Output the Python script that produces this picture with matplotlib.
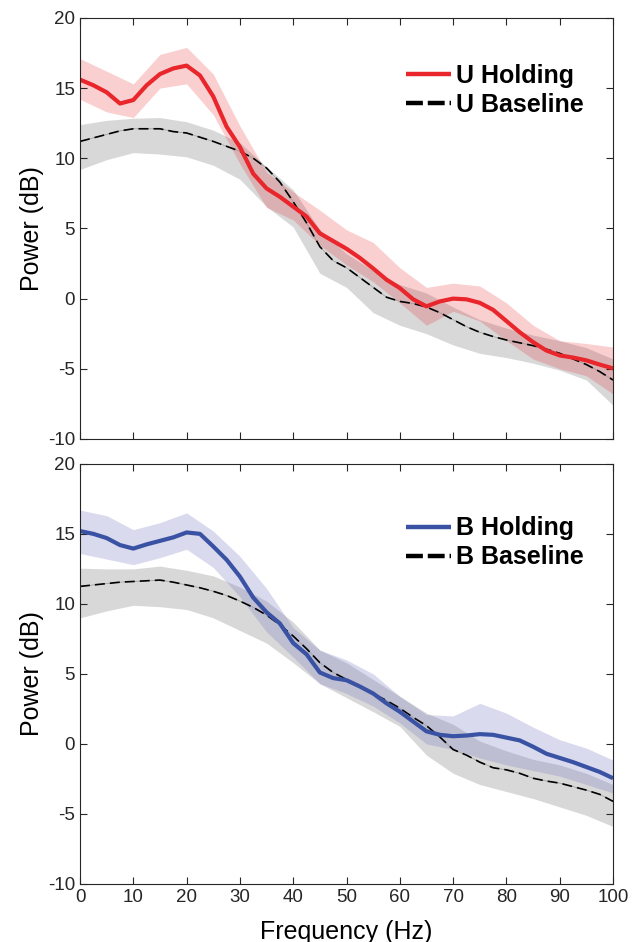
import matplotlib
matplotlib.use("Agg")
import matplotlib.pyplot as plt
import numpy as np

plt.rcParams["font.family"] = ["Liberation Sans", "DejaVu Sans"]
plt.rcParams["axes.unicode_minus"] = False

# frequency grids (Hz)
freq = np.arange(0, 100.1, 2.5)
freq_band = np.arange(0, 100.1, 5)

# --- top panel: U ---
u_hold = [15.6, 15.2, 14.7, 13.9, 14.15, 15.2, 16.0, 16.4, 16.6, 15.9, 14.4,
          12.25, 10.8, 8.9, 7.85, 7.25, 6.55, 5.85, 4.65, 4.1, 3.55, 2.9, 2.15,
          1.35, 0.75, -0.05, -0.55, -0.2, 0.0, -0.05, -0.3, -0.8, -1.6, -2.4,
          -3.1, -3.7, -4.05, -4.2, -4.4, -4.7, -4.97]
u_base = [11.2, 11.45, 11.7, 11.95, 12.1, 12.1, 12.1, 11.9, 11.8, 11.5, 11.2,
          10.85, 10.5, 10.0, 9.3, 8.3, 6.9, 5.4, 3.7, 2.7, 2.2, 1.5, 0.8, 0.1,
          -0.2, -0.35, -0.6, -1.0, -1.5, -2.0, -2.4, -2.7, -2.95, -3.15, -3.35,
          -3.6, -3.9, -4.3, -4.7, -5.2, -5.8]
u_hold_hi = [17.1, 16.2, 15.3, 17.4, 17.9, 16.0, 12.3, 9.0, 7.6, 6.3, 4.9,
             4.0, 2.2, 0.8, 1.1, 0.9, -0.3, -1.9, -3.0, -3.2, -3.45]
u_hold_lo = [14.2, 13.3, 12.9, 15.0, 15.3, 13.1, 9.6, 6.5, 5.6, 3.8, 2.4,
             1.2, -0.3, -1.9, -0.9, -1.6, -3.0, -4.3, -5.0, -5.5, -6.8]
u_base_hi = [12.4, 12.7, 12.85, 12.9, 12.6, 12.0, 11.1, 9.4, 7.75, 4.9, 3.2,
             2.0, 1.0, 0.4, -0.6, -1.5, -2.1, -2.6, -3.0, -3.5, -4.3]
u_base_lo = [9.2, 9.9, 10.4, 10.3, 10.1, 9.5, 8.5, 6.55, 5.1, 1.8, 0.8,
             -1.0, -1.9, -2.5, -3.3, -3.9, -4.2, -4.6, -5.1, -5.8, -7.6]

# --- bottom panel: B ---
b_hold = [15.2, 15.0, 14.7, 14.2, 13.95, 14.25, 14.5, 14.75, 15.1, 15.0, 14.1,
          13.15, 11.95, 10.45, 9.4, 8.6, 7.2, 6.4, 5.1, 4.7, 4.55, 4.1, 3.6,
          2.9, 2.3, 1.6, 0.9, 0.65, 0.55, 0.6, 0.7, 0.65, 0.45, 0.25, -0.2,
          -0.7, -1.0, -1.3, -1.65, -2.0, -2.45]
b_base = [11.25, 11.35, 11.45, 11.55, 11.6, 11.65, 11.7, 11.55, 11.35, 11.15,
          10.9, 10.6, 10.2, 9.75, 9.2, 8.5, 7.7, 6.8, 5.8, 5.1, 4.6, 4.1, 3.6,
          3.1, 2.55, 1.9, 1.3, 0.5, -0.4, -0.8, -1.3, -1.7, -1.85, -2.1, -2.45,
          -2.65, -2.8, -3.05, -3.3, -3.6, -4.1]
b_hold_hi = [16.7, 16.3, 15.3, 15.8, 16.5, 15.2, 13.4, 11.1, 8.3, 6.7, 6.0,
             5.0, 3.4, 2.1, 2.0, 2.9, 2.2, 1.2, 0.3, -0.3, -1.15]
b_hold_lo = [13.6, 13.2, 12.8, 13.3, 13.9, 12.6, 10.5, 8.0, 6.2, 4.3, 3.6,
             2.7, 1.5, 0.0, -0.4, -1.0, -1.5, -1.9, -2.3, -2.9, -3.5]
b_base_hi = [12.55, 12.5, 12.5, 12.7, 12.4, 12.0, 11.2, 10.2, 8.7, 6.7, 5.8,
             4.6, 3.4, 2.2, 1.4, 0.2, -0.5, -1.1, -1.5, -2.1, -2.9]
b_base_lo = [9.0, 9.5, 9.9, 9.8, 9.6, 9.0, 8.1, 7.2, 5.8, 4.3, 3.3,
             2.3, 1.25, -0.8, -2.1, -2.9, -3.4, -3.9, -4.5, -5.1, -5.9]

RED = "#e8262b"
BLUE = "#3a52a3"
AX_COL = "#262626"

fig = plt.figure(figsize=(6.32, 9.42), dpi=100)
ax1 = fig.add_axes([0.1266, 0.534, 0.8434, 0.447])
ax2 = fig.add_axes([0.1266, 0.0616, 0.8434, 0.446])


def panel(ax, hold, base, h_hi, h_lo, b_hi, b_lo, col, band_col, band_alpha,
          labels, leg_y):
    ax.fill_between(freq_band, b_lo, b_hi, color="#bdbdbd", alpha=0.58, lw=0)
    ax.fill_between(freq_band, h_lo, h_hi, color=band_col, alpha=band_alpha, lw=0)
    ax.plot(freq, base, color="#9a9a9a", lw=0.5)
    ax.plot(freq, base, color="black", lw=1.2, ls=(0, (6, 3)), label=labels[1])
    ax.plot(freq, hold, color=col, lw=3, label=labels[0],
            solid_capstyle="butt", solid_joinstyle="round")
    ax.set_xlim(0, 100)
    ax.set_ylim(-10, 20)
    ax.set_xticks(np.arange(0, 101, 10))
    ax.set_yticks(np.arange(-10, 21, 5))
    ax.tick_params(direction="in", length=5, width=0.8, top=True, right=True,
                   labelsize=13.5, colors=AX_COL, labelcolor=AX_COL)
    for s in ax.spines.values():
        s.set_color(AX_COL)
        s.set_linewidth(0.8)
    ax.set_ylabel("Power (dB)", fontsize=18, labelpad=3)
    h, l = ax.get_legend_handles_labels()
    leg = ax.legend(h[::-1], l[::-1], loc="upper right",
                    bbox_to_anchor=(0.945, leg_y), frameon=False,
                    prop={"weight": "bold", "size": 18},
                    handlelength=1.8, handletextpad=0.2, labelspacing=0.2,
                    borderpad=0, borderaxespad=0)
    lines = leg.get_lines()
    lines[0].set_linewidth(3.2)
    lines[1].set_linewidth(3.2)
    lines[1].set_linestyle((0, (3.8, 1.1)))
    return ax


panel(ax1, u_hold, u_base, u_hold_hi, u_hold_lo, u_base_hi, u_base_lo,
      RED, RED, 0.22, ["U Holding", "U Baseline"], 0.89)
ax1.set_xticklabels([])

panel(ax2, b_hold, b_base, b_hold_hi, b_hold_lo, b_base_hi, b_base_lo,
      BLUE, "#7b7bc4", 0.28, ["B Holding", "B Baseline"], 0.875)
ax2.set_xlabel("Frequency (Hz)", fontsize=18, labelpad=10)

fig.savefig("out.png", dpi=100)
